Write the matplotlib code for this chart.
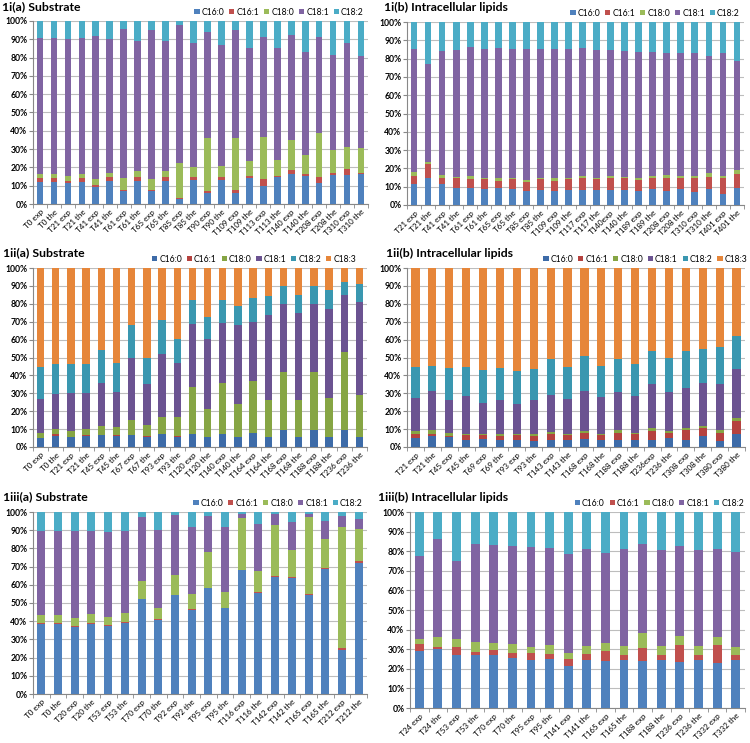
import numpy as np
import matplotlib
matplotlib.use("Agg")
import matplotlib.pyplot as plt
from matplotlib.ticker import PercentFormatter

plt.rcParams["font.family"] = ["Lato", "DejaVu Sans"]

# === series names / colours ===
names5 = ["C16:0", "C16:1", "C18:0", "C18:1", "C18:2"]
names6 = ["C16:0", "C16:1", "C18:0", "C18:1", "C18:2", "C18:3"]
cores = ["#4F81BD", "#C0504D", "#9BBB59", "#8064A2", "#4BACC6", "#F79646"]
cores_ii = ["#3D6BA8", "#B5423F", "#86A544", "#6B5391", "#3A97B0", "#E6863A"]

# === 1i(a) Substrate ===
lab_1ia = ["T0 exp", "T0 the", "T21 exp", "T21 the", "T41 exp", "T41 the", "T61 exp", "T61 the",
           "T65 exp", "T65 the", "T85 exp", "T85 the", "T90 exp", "T90 the", "T109 exp", "T109 the",
           "T113 exp", "T113 the", "T140 exp", "T140 the", "T208 exp", "T208 the", "T310 exp", "T310 the"]
c160_1ia = [12, 12, 11.5, 12, 9.5, 12.5, 7, 12.5, 7, 12.5, 3, 13, 6, 13, 6, 14, 10, 14.5, 16.5, 15.5, 11.5, 16, 16, 16.5]
c161_1ia = [2, 2, 1, 2, 1, 2, 0.7, 2, 0.7, 2, 0.5, 1.5, 1, 1.5, 1.5, 1.5, 3.5, 1, 2, 1, 3, 1, 3, 0.5]
c180_1ia = [2.5, 2.5, 3, 2.5, 3, 2.5, 6.3, 3.5, 5.8, 3.5, 19, 5.5, 29, 6.5, 28.5, 8, 23, 8.5, 16.5, 10.5, 24.5, 12.5, 12, 13.5]
c181_1ia = [74, 74, 74.5, 74, 78.5, 73, 81.5, 71, 81.5, 71, 75.5, 68, 58, 66, 59, 62, 55, 61, 57.5, 56, 52, 52, 57, 50.5]
c182_1ia = [9.5, 9.5, 10, 9.5, 8, 10, 4.5, 11, 5, 11, 2, 12, 6, 13, 5, 14.5, 8.5, 15, 7.5, 17, 9, 18.5, 12, 19]

# === 1i(b) Intracellular lipids ===
lab_1ib = ["T21 exp", "T21 the", "T41 exp", "T41 the", "T61 exp", "T61 the", "T65 exp", "T65 the",
           "T85 exp", "T85 the", "T109 exp", "T109 the", "T117 exp", "T117 the", "T140exp", "T140 the",
           "T189 exp", "T189 the", "T208 exp", "T208 the", "T310 exp", "T310 the", "T401 exp", "T401 the"]
c160_1ib = [11.5, 15, 11.5, 9.5, 9.5, 8.5, 9.5, 8.5, 7.5, 8, 7.5, 8, 8, 8, 8, 8, 7.5, 8.5, 7.5, 8.5, 7, 9, 6, 9.5]
c161_1ib = [4.5, 7.5, 3.5, 5, 4.5, 5.5, 3.5, 5.5, 5, 6, 5.5, 6, 7, 6, 6.5, 6.5, 6, 6, 7.5, 6, 7.5, 6.5, 8.5, 7.5]
c180_1ib = [2, 1, 1.5, 1, 2, 1, 1.5, 1, 1, 1, 1.5, 1, 1, 1, 1.5, 1, 1.5, 1.5, 1.5, 1.5, 1.5, 2, 1.5, 2]
c181_1ib = [67, 53.5, 67.5, 69, 70.5, 70, 71.5, 70, 71.5, 70, 71, 70, 70, 69.5, 68.5, 68.5, 68.5, 67.5, 66.5, 67, 67, 64, 67, 59.5]
c182_1ib = [15, 23, 16, 15.5, 13.5, 15, 14, 15, 15, 15, 14.5, 15, 14, 15.5, 15.5, 16, 16.5, 16.5, 17, 17, 17, 18.5, 17, 21.5]

# === 1ii(a) Substrate ===
lab_1iia = ["T0 exp", "T0 the", "T21 exp", "T21 the", "T45 exp", "T45 the", "T67 exp", "T67 the",
            "T93 exp", "T93 the", "T120 exp", "T120 the", "T140 exp", "T140 the", "T164 exp", "T164 the",
            "T168 exp", "T168 the", "T188 exp", "T188 the", "T236 exp", "T236 the"]
c160_1iia = [5, 6, 5.5, 6, 6.5, 6, 6.5, 5.5, 7, 5.5, 7, 5.5, 7, 5.5, 8, 5.5, 9.5, 5.5, 9.5, 5.5, 9.5, 5.5]
c161_1iia = [0, 1, 0, 0.5, 0, 0.5, 0, 0.5, 0, 0.5, 0, 0, 0, 0.2, 0, 0.3, 0, 0.3, 0, 0.3, 0, 0.3]
c180_1iia = [3, 3, 3.5, 3.5, 5, 4.5, 8.5, 6.5, 9.5, 10.5, 26.5, 16, 29, 18.3, 29, 20.7, 32.5, 20.7, 32.5, 21.7, 43.5, 23.2]
c181_1iia = [19, 19.5, 21, 20, 24.5, 20, 34.5, 22.5, 35.5, 30.5, 35, 39, 33, 44, 33, 47, 38, 48.5, 38, 49.5, 32, 52]
c182_1iia = [17.5, 17, 16.5, 16.5, 18, 16, 18.5, 15, 19, 13.5, 13.5, 12, 13, 11, 13.5, 11, 10, 10, 10, 10.5, 7, 10]
c183_1iia = [55.5, 53.5, 53.5, 53.5, 46, 53, 32, 50, 29, 39.5, 18, 27.5, 18, 21, 16.5, 15.5, 10, 15, 10, 12.5, 8, 9]

# === 1ii(b) Intracellular lipids ===
lab_1iib = ["T21 exp", "T21 the", "T45 exp", "T45 the", "T69 exp", "T69 the", "T93 exp", "T93 the",
            "T143 exp", "T143 the", "T168 exp", "T168 the", "T188 exp", "T188 the", "T236exp", "T236 the",
            "T308 exp", "T308 the", "T380 exp", "T380 the"]
c160_1iib = [5, 6, 5.5, 4, 4.5, 4, 4, 3.5, 4, 4, 4.5, 4, 4, 4, 4, 5, 4, 6, 3.5, 7]
c161_1iib = [2, 1.5, 0.5, 2.5, 2, 2, 2.5, 2.5, 3.5, 2.5, 3.5, 2.5, 4, 3, 5, 3, 5.5, 4.5, 4.5, 7.5]
c180_1iib = [2, 2, 2, 1, 1, 1, 1, 1, 1, 1, 1, 1, 1.5, 1, 1.5, 1, 1, 1, 1.5, 1.5]
c181_1iib = [18.5, 22, 18, 21, 17, 19.5, 16.5, 19, 20.5, 19.5, 22.5, 20.5, 21, 20.5, 24.5, 22, 22.5, 24.5, 25.5, 27.5]
c182_1iib = [17, 14, 18, 16, 18.5, 17.5, 18.5, 17.5, 20, 17.5, 19.5, 17.5, 18.5, 18, 18.5, 18.5, 20.5, 19, 21, 18.5]
c183_1iib = [55.5, 54.5, 56, 55.5, 57, 56, 57.5, 56.5, 51, 55.5, 49, 54.5, 51, 53.5, 46.5, 50.5, 46.5, 45, 44, 38]

# === 1iii(a) Substrate ===
lab_1iiia = ["T0 exp", "T0 the", "T20 exp", "T20 the", "T53 exp", "T53 the", "T70 exp", "T70 the",
             "T92 exp", "T92 the", "T95 exp", "T95 the", "T116 exp", "T116 the", "T142 exp", "T142 the",
             "T165 exp", "T165 the", "T212 exp", "T212 the"]
c160_1iiia = [38.5, 38.5, 37, 38.5, 37.5, 39, 52, 40.5, 54.5, 46, 58.5, 47, 68, 55.5, 64.5, 63.5, 54.5, 68.5, 24, 72]
c161_1iiia = [0.5, 0.5, 0.3, 0.5, 0.3, 0.3, 0, 0.5, 0, 0.5, 0, 0.5, 0.3, 0.3, 0.3, 1, 0.2, 0.5, 1.5, 1]
c180_1iiia = [4.5, 4.5, 4.7, 5, 4.7, 5.2, 10, 6, 11, 8.5, 19.5, 8.5, 28.2, 11.7, 28.2, 14.5, 42.3, 16, 66.5, 17.5]
c181_1iiia = [46, 46, 47.5, 45.5, 46.5, 45, 35, 43, 33, 36.5, 20, 36, 2.5, 26, 6, 15.5, 2, 10, 6, 5.5]
c182_1iiia = [10.5, 10.5, 10.5, 10.5, 11, 10.5, 3, 10, 1.5, 8.5, 2, 8, 1, 6.5, 1, 5.5, 1, 5, 2, 4]

# === 1iii(b) Intracellular lipids ===
lab_1iiib = ["T24 exp", "T24 the", "T53 exp", "T53 the", "T70 exp", "T70 the", "T95 exp", "T95 the",
             "T141 exp", "T141 the", "T165 exp", "T165 the", "T188 exp", "T188 the", "T236 exp", "T236 the",
             "T332 exp", "T332 the"]
c160_1iiib = [29, 30, 27, 27, 27, 25.5, 24.5, 25, 21.5, 24.5, 24, 24.5, 24, 24.5, 23.5, 24.5, 23, 24.5]
c161_1iiib = [3.5, 1, 4, 1.5, 2.5, 2.5, 3.5, 2.5, 3.5, 3, 5, 2.5, 6.5, 2.5, 8.5, 2.5, 9, 2.5]
c180_1iiib = [2.5, 5, 4, 5, 3.5, 4.5, 3, 4.5, 3, 4, 4, 4.5, 8, 4.5, 4.5, 4.5, 4, 4]
c181_1iiib = [42.5, 50, 40, 50, 50, 50, 51, 49.5, 50.5, 49.5, 46, 49.5, 45, 49, 46, 49, 45, 48.5]
c182_1iiib = [22.5, 14, 25, 16.5, 17, 17.5, 18, 18.5, 21.5, 19, 21, 19, 16.5, 19.5, 17.5, 19.5, 19, 20.5]

fig = plt.figure(figsize=(7.5, 7.43), dpi=100)
W, H = 750, 743


def eixo(l, r, t, b):
    return fig.add_axes([l / W, 1 - b / H, (r - l) / W, (b - t) / H])


def painel(ax, titulo, tpos, labels, series, nomes, cor, leg_x):
    x = np.arange(len(labels))
    base = np.zeros(len(labels))
    for vals, nome, c in zip(series, nomes, cor):
        vals = np.array(vals, dtype=float)
        ax.bar(x, vals, 0.48, bottom=base, color=c, label=nome, zorder=3)
        base = base + vals
    ax.set_ylim(0, 100)
    ax.set_xlim(-0.5, len(labels) - 0.5)
    ax.set_yticks(np.arange(0, 101, 10))
    ax.yaxis.set_major_formatter(PercentFormatter(decimals=0))
    ax.grid(axis="y", color="#BDBDBD", linewidth=0.8, zorder=0)
    ax.set_xticks(x)
    ax.set_xticklabels(labels, rotation=45, ha="right", rotation_mode="anchor", fontsize=5.8)
    ax.set_xticks(np.arange(-0.5, len(labels)), minor=True)
    ax.tick_params(axis="x", which="major", length=0, pad=3)
    ax.tick_params(axis="x", which="minor", length=3, color="#888888")
    ax.tick_params(axis="y", length=3, color="#888888", labelsize=6.2, pad=1)
    for t in ax.get_yticklabels():
        t.set_fontweight("bold")
    for s in ["top", "right"]:
        ax.spines[s].set_visible(False)
    for s in ["left", "bottom"]:
        ax.spines[s].set_color("#888888")
    # titulo em posicao fixa (pixels)
    fig.text(tpos[0] / W, 1 - tpos[1] / H, titulo, ha="left", va="center", fontsize=8.8, fontweight="bold")
    ax.legend(loc="lower right", bbox_to_anchor=(leg_x, 1.0), ncol=len(nomes), frameon=False,
              fontsize=6.2, handlelength=0.6, handleheight=0.6, handletextpad=0.25,
              columnspacing=0.55, borderaxespad=0.3, borderpad=0.2)


ax = eixo(33, 368, 21, 204)
painel(ax, "1i(a) Substrate", (2, 7), lab_1ia,
       [c160_1ia, c161_1ia, c180_1ia, c181_1ia, c182_1ia], names5, cores, 1.0)
ax = eixo(407, 744, 22, 205)
painel(ax, "1i(b) Intracellular lipids", (384, 7), lab_1ib,
       [c160_1ib, c161_1ib, c180_1ib, c181_1ib, c182_1ib], names5, cores, 1.0)
ax = eixo(33, 367, 268, 447)
painel(ax, "1ii(a) Substrate", (3, 253), lab_1iia,
       [c160_1iia, c161_1iia, c180_1iia, c181_1iia, c182_1iia, c183_1iia], names6, cores_ii, 0.98)
ax = eixo(407, 745, 268, 447)
painel(ax, "1ii(b) Intracellular lipids", (386, 253), lab_1iib,
       [c160_1iib, c161_1iib, c180_1iib, c181_1iib, c182_1iib, c183_1iib], names6, cores_ii, 1.02)
ax = eixo(33, 367, 512, 694)
painel(ax, "1iii(a) Substrate", (3, 497), lab_1iiia,
       [c160_1iiia, c161_1iiia, c180_1iiia, c181_1iiia, c182_1iiia], names5, cores, 1.0)
ax = eixo(410, 745, 512, 708)
painel(ax, "1iii(b) Intracellular lipids", (378, 497), lab_1iiib,
       [c160_1iiib, c161_1iiib, c180_1iiib, c181_1iiib, c182_1iiib], names5, cores, 1.01)

fig.savefig("out.png", dpi=100)
